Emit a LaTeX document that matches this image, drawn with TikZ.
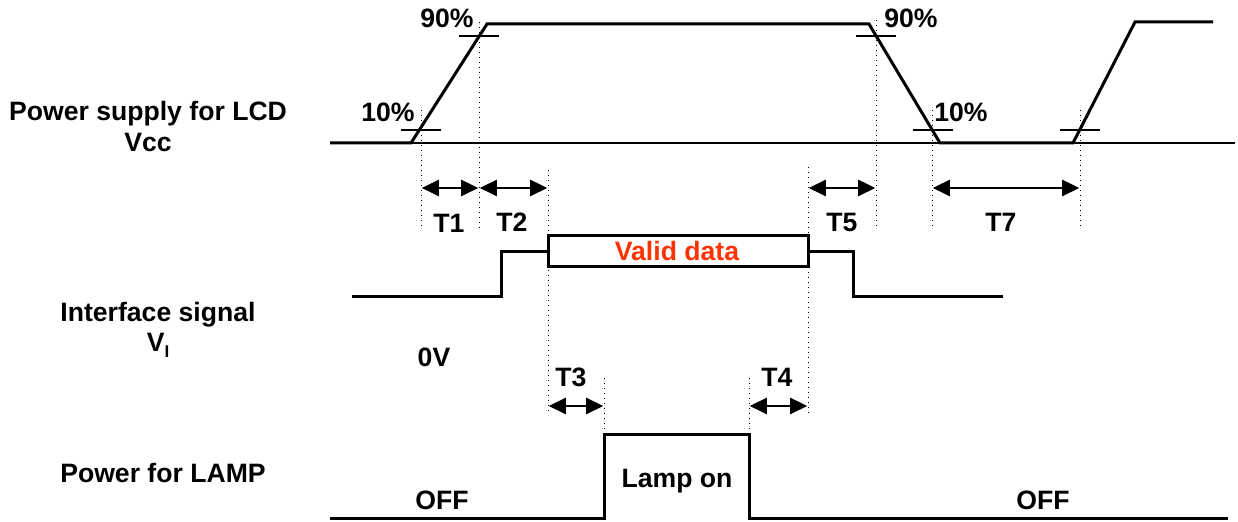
\documentclass[tikz,border=0pt]{standalone}
\usepackage{fontspec}
\setmainfont{Liberation Sans}
\usetikzlibrary{arrows.meta}
\begin{document}
\begin{tikzpicture}[x=0.5pt,y=-0.5pt,
  sig/.style={line width=1.5pt,line join=miter},
  base/.style={line width=0.8pt},
  guide/.style={line width=0.5pt,dotted},
  tick/.style={line width=0.8pt},
  dim/.style={line width=1.3pt,{Triangle[length=8.5pt,width=8pt]}-{Triangle[length=8.5pt,width=8pt]},shorten <=0.4pt,shorten >=0.4pt},
  lbl/.style={font=\fontsize{13.3}{16}\selectfont\bfseries,inner sep=0pt,anchor=base},
  pct/.style={font=\fontsize{13.3}{16}\selectfont\bfseries,inner sep=0pt,anchor=base},
  tl/.style={font=\fontsize{13.3}{16}\selectfont\bfseries,inner sep=0pt,anchor=base}]
\useasboundingbox (0,0) rectangle (1238,522);
% left labels
\node[lbl] (lcd) at (148,121) {Power supply for LCD};
\node[lbl] (vcc) at (148,152) {Vcc};
\node[lbl] (ifs) at (158,322) {Interface signal};
\node[lbl] (vi) at (158,352) {V\raisebox{-0.4ex}{\fontsize{8.5}{9}\selectfont\bfseries I}};
\node[lbl] (lamp) at (163,483) {Power for LAMP};
% Vcc waveform
\coordinate (b0) at (330,143);
\coordinate (bE) at (1235,143);
\draw[base] (b0) -- (bE);
\coordinate (v0) at (330,143);
\coordinate (v1) at (411,143);
\coordinate (v2) at (487,24);
\coordinate (v3) at (869,24);
\coordinate (v4) at (940,143);
\coordinate (v5) at (1073,143);
\coordinate (v6) at (1135,22);
\coordinate (v7) at (1213,22);
\draw[sig] (v0) -- (v1) -- (v2) -- (v3) -- (v4) -- (v5) -- (v6) -- (v7);
% ticks
\coordinate (t10a) at (421,130);
\coordinate (t90a) at (479,36);
\coordinate (t90b) at (876,36);
\coordinate (t10b) at (933,130);
\coordinate (t10c) at (1080,130);
\foreach \t in {t10a,t90a,t90b,t10b,t10c}
  \draw[tick] ([xshift=-10]\t) -- ([xshift=10]\t);
\node[pct] (p10a) at (388,122) {10\%};
\node[pct] (p90a) at (447,28) {90\%};
\node[pct] (p90b) at (911,28) {90\%};
\node[pct] (p10b) at (961,122) {10\%};
% guides
\coordinate (g1t) at (421,110); \coordinate (g1b) at (421,228);
\coordinate (g2t) at (479,22);  \coordinate (g2b) at (479,228);
\coordinate (g3t) at (548,170); \coordinate (g3b) at (548,415);
\coordinate (g4t) at (808,167); \coordinate (g4b) at (808,415);
\coordinate (g5t) at (876,20);  \coordinate (g5b) at (876,228);
\coordinate (g6t) at (932,110); \coordinate (g6b) at (932,228);
\coordinate (g7t) at (1080,110);\coordinate (g7b) at (1080,228);
\coordinate (g8t) at (604,378); \coordinate (g8b) at (604,435);
\coordinate (g9t) at (749,378); \coordinate (g9b) at (749,435);
\foreach \g in {1,...,9} \draw[guide] (g\g t) -- (g\g b);
% dimension arrows
\coordinate (a1) at (421,188); \coordinate (a2) at (479,188);
\coordinate (a3) at (548,188); \coordinate (a5) at (808,188);
\coordinate (a6) at (876,188); \coordinate (a7) at (932,188);
\coordinate (a8) at (1080,188);
\draw[dim] (a1) -- (a2);
\draw[dim] (a2) -- (a3);
\draw[dim] (a5) -- (a6);
\draw[dim] (a7) -- (a8);
\coordinate (c1) at (548,406); \coordinate (c2) at (604,406);
\coordinate (c3) at (749,406); \coordinate (c4) at (808,406);
\draw[dim] (c1) -- (c2);
\draw[dim] (c3) -- (c4);
\node[tl] (T1) at (449,233) {T1};
\node[tl] (T2) at (512,232) {T2};
\node[tl] (T5) at (842,232) {T5};
\node[tl] (T7) at (1001,232) {T7};
\node[tl] (T3) at (571,387) {T3};
\node[tl] (T4) at (777,387) {T4};
% interface signal
\coordinate (i0) at (352,297); \coordinate (i1) at (501,297);
\coordinate (i2) at (501,252); \coordinate (i3) at (548,252);
\coordinate (i4) at (808,252); \coordinate (i5) at (853,252);
\coordinate (i6) at (853,297); \coordinate (i7) at (1003,297);
\draw[sig] (i0) -- (i1) -- (i2) -- (i3);
\draw[sig] (i4) -- (i5) -- (i6) -- (i7);
\coordinate (vd1) at (548,236); \coordinate (vd2) at (808,267);
\draw[sig] (vd1) rectangle (vd2);
\node[lbl,text={rgb,255:red,255;green,51;blue,0}] (valid) at (677,261) {Valid data};
\node[lbl] (zero) at (434,367) {0V};
% lamp
\coordinate (l0) at (330,519); \coordinate (l1) at (604,519);
\coordinate (l2) at (604,435); \coordinate (l3) at (749,435);
\coordinate (l4) at (749,519); \coordinate (l5) at (1228,519);
\draw[sig] (l0) -- (l1) -- (l2) -- (l3) -- (l4) -- (l5);
\node[lbl] (lampon) at (677,488) {Lamp on};
\node[lbl] (off1) at (442,510) {OFF};
\node[lbl] (off2) at (1043,510) {OFF};
\end{tikzpicture}
\end{document}
